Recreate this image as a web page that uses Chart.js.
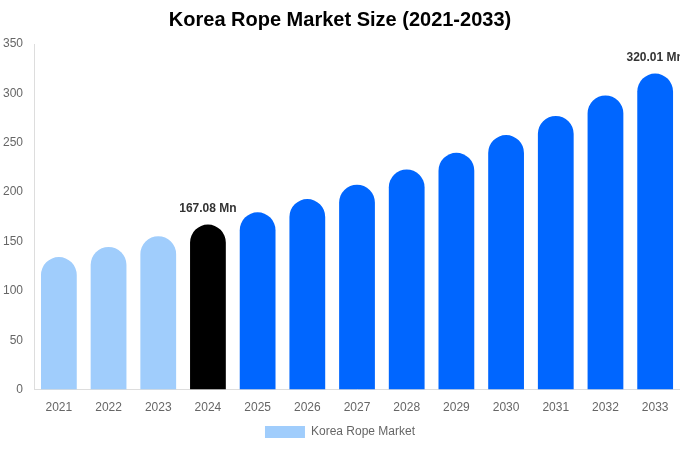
<!DOCTYPE html>
<html>
<head>
<meta charset="utf-8">
<script src="https://cdn.jsdelivr.net/npm/chart.js@4"></script>
<style>
  html, body { margin: 0; padding: 0; background: #fff; }
  #wrap { width: 680px; height: 450px; }
</style>
</head>
<body>
<div id="wrap"><canvas id="ropeChart"></canvas></div>
<script>
const years = ['2021', '2022', '2023', '2024', '2025', '2026', '2027', '2028', '2029', '2030', '2031', '2032', '2033'];
const marketSize = [134.2, 144.5, 155.3, 167.08, 179.5, 193.0, 207.5, 223.0, 239.8, 257.8, 277.1, 297.9, 320.01];
const barColors = ['#a0cdfc', '#a0cdfc', '#a0cdfc', '#000000', '#0066ff', '#0066ff', '#0066ff', '#0066ff', '#0066ff', '#0066ff', '#0066ff', '#0066ff', '#0066ff'];
const labelled = { 3: '167.08 Mn', 12: '320.01 Mn' }; // only the highlighted bars carry a value

// draws the value text above the chosen bars
const valueLabels = {
    id: 'valueLabels',
    afterDatasetsDraw(chart) {
        const ctx = chart.ctx;
        const meta = chart.getDatasetMeta(0);
        ctx.save();
        ctx.font = 'bold 12px "Liberation Sans", Arial, sans-serif';
        ctx.fillStyle = '#333';
        ctx.textAlign = 'center';
        ctx.textBaseline = 'bottom';
        Object.keys(labelled).forEach(i => {
            const bar = meta.data[i];
            ctx.fillText(labelled[i], bar.x, bar.y - 10);
        });
        ctx.restore();
    }
};

Chart.defaults.font.family = '"Liberation Sans", Arial, sans-serif';
Chart.defaults.color = '#666';

new Chart(document.getElementById('ropeChart'), {
    type: 'bar',
    data: {
        labels: years,
        datasets: [{
            label: 'Korea Rope Market',
            data: marketSize,
            backgroundColor: barColors,
            borderRadius: 18,
            borderSkipped: 'bottom',
            categoryPercentage: 0.8,
            barPercentage: 0.9
        }]
    },
    options: {
        responsive: true,
        maintainAspectRatio: false,
        animation: false,
        layout: { padding: { top: 0, right: 0, left: 0, bottom: 2 } },
        plugins: {
            title: {
                display: true,
                text: 'Korea Rope Market Size (2021-2033)',
                color: '#000',
                font: { size: 20, weight: 'bold' },
                padding: { top: 8, bottom: 12 }
            },
            legend: {
                position: 'bottom',
                labels: {
                    boxWidth: 40,
                    boxHeight: 12,
                    padding: 8,
                    color: '#666',
                    font: { size: 12 },
                    generateLabels: () => [{
                        text: 'Korea Rope Market',
                        fillStyle: '#a0cdfc',
                        strokeStyle: '#a0cdfc',
                        lineWidth: 0,
                        fontColor: '#666'
                    }]
                }
            },
            tooltip: { enabled: false }
        },
        scales: {
            x: {
                grid: { display: false },
                border: { display: true, color: '#ddd' },
                ticks: { font: { size: 12 }, color: '#666' }
            },
            y: {
                min: 0,
                max: 350,
                ticks: { stepSize: 50, font: { size: 12 }, color: '#666' },
                grid: { display: false },
                border: { display: true, color: '#ddd' }
            }
        }
    },
    plugins: [valueLabels]
});
</script>
</body>
</html>
